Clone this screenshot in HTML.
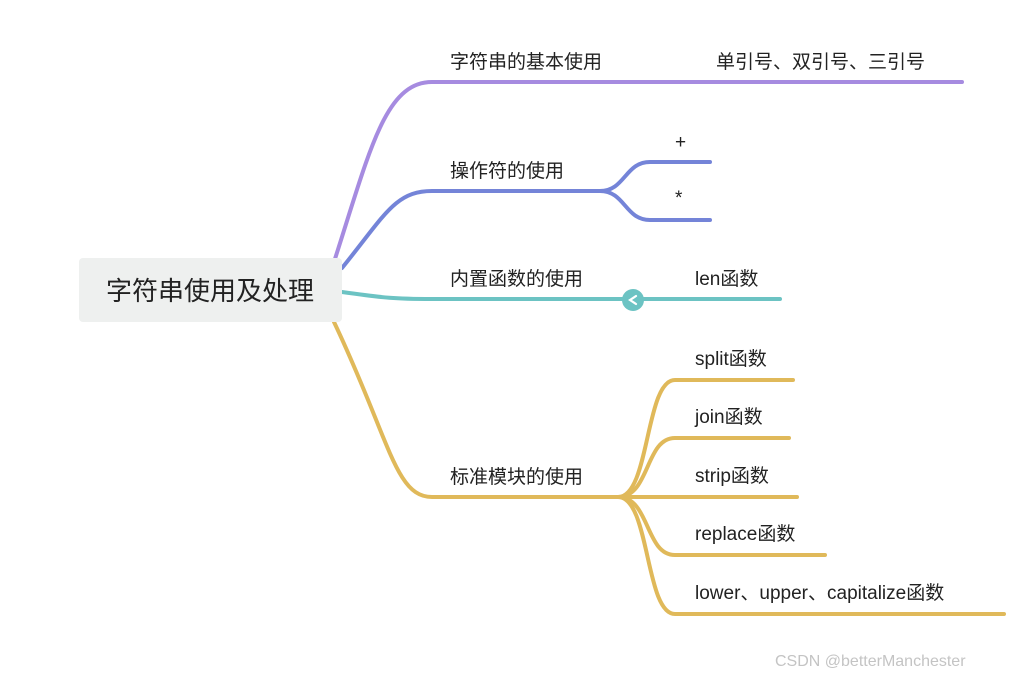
<!DOCTYPE html>
<html><head><meta charset="utf-8"><style>
html,body{margin:0;padding:0;background:#fff;}
svg{display:block;}
text{font-family:"Liberation Sans","Noto Sans CJK SC",sans-serif;fill:#222;}
</style></head><body>
<svg width="1031" height="678" viewBox="0 0 1031 678" xmlns="http://www.w3.org/2000/svg">
<g fill="none" stroke-width="4" stroke-linecap="round">
<path d="M334 262 C370 150,385 82,432 82 L962 82" stroke="#a68be0"/>
<path d="M342 268 C385 215,395 191,432 191 L600 191" stroke="#7484d8"/>
<path d="M600 191 C625 191,625 162,650 162 L710 162" stroke="#7484d8"/>
<path d="M600 191 C625 191,625 220,650 220 L710 220" stroke="#7484d8"/>
<path d="M342 292 C385 298,395 299,432 299 L780 299" stroke="#6cc3c3"/>
<path d="M334 322 C390 440,395 497,432 497 L618 497" stroke="#e0b95a"/>
<path d="M618 497 C650 497,645 380,675 380 L793 380" stroke="#e0b95a"/>
<path d="M618 497 C650 497,645 438,675 438 L789 438" stroke="#e0b95a"/>
<path d="M618 497 L797 497" stroke="#e0b95a"/>
<path d="M618 497 C650 497,645 555,675 555 L825 555" stroke="#e0b95a"/>
<path d="M618 497 C650 497,645 614,675 614 L1004 614" stroke="#e0b95a"/>
</g>
<circle cx="633" cy="300" r="11" fill="#6cc3c3"/>
<path d="M636 296 L630 300 L636 304" fill="none" stroke="#fff" stroke-width="2.2" stroke-linecap="round"/>
<rect x="79" y="258" width="263" height="64" rx="4" fill="#eef0ef"/>
<text x="210" y="300" font-size="26" text-anchor="middle">字符串使用及处理</text>
<g font-size="19">
<text x="450" y="68">字符串的基本使用</text>
<text x="716" y="68">单引号、双引号、三引号</text>
<text x="450" y="177">操作符的使用</text>
<text x="675" y="148">+</text>
<text x="675" y="204">*</text>
<text x="450" y="285">内置函数的使用</text>
<text x="695" y="285">len函数</text>
<text x="450" y="483">标准模块的使用</text>
<text x="695" y="365">split函数</text>
<text x="695" y="423">join函数</text>
<text x="695" y="482">strip函数</text>
<text x="695" y="540">replace函数</text>
<text x="695" y="599">lower、upper、capitalize函数</text>
</g>
<text x="775" y="666" font-size="16" style="fill:#c4c4c4">CSDN @betterManchester</text>
</svg>
</body></html>
